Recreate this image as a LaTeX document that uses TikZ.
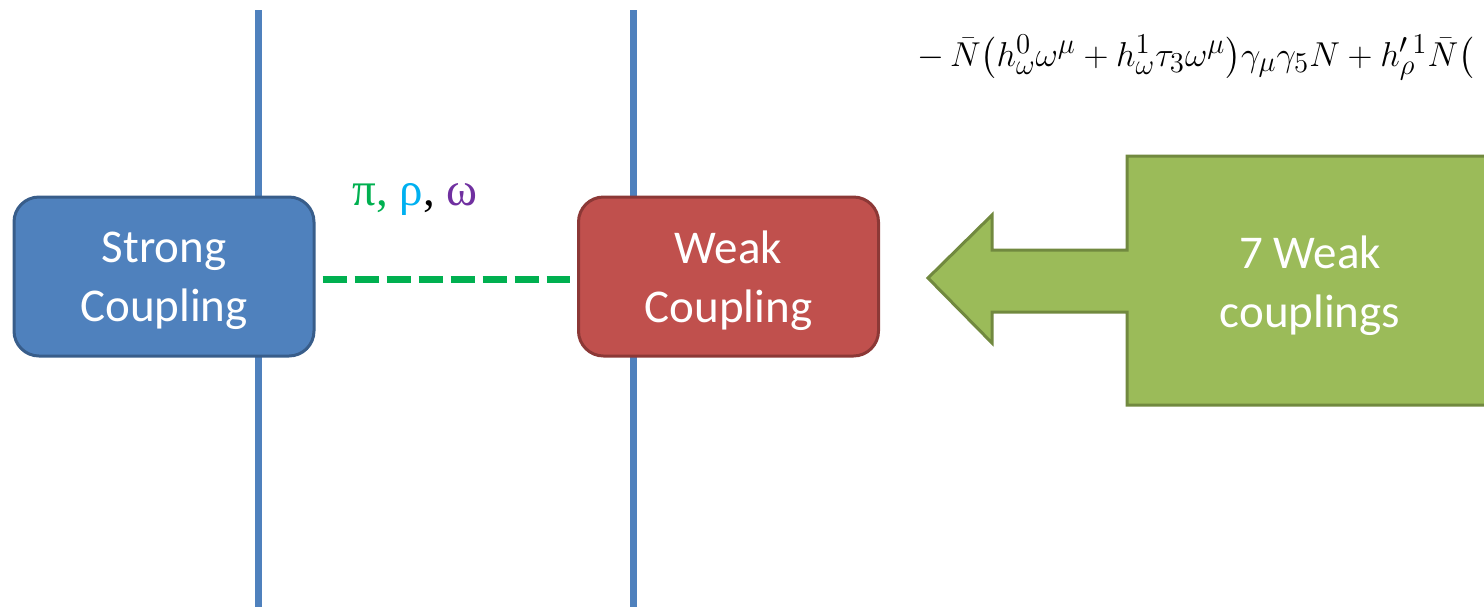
\documentclass[tikz,border=0pt]{standalone}
\usepackage{fontspec}
\setmainfont{Carlito}
\newfontfamily\greekfont{Liberation Serif}
\usepackage{amsmath}
\definecolor{lineblue}{HTML}{4F81BD}
\definecolor{strongfill}{HTML}{4F81BD}
\definecolor{strongdraw}{HTML}{385D8A}
\definecolor{weakfill}{HTML}{C0504D}
\definecolor{weakdraw}{HTML}{8C3836}
\definecolor{arrowfill}{HTML}{9BBB59}
\definecolor{arrowdraw}{HTML}{71893F}
\definecolor{mesongreen}{HTML}{00B050}
\definecolor{mesoncyan}{HTML}{00B0F0}
\definecolor{mesonpurple}{HTML}{7030A0}
\tikzset{
  coupbox/.style={rounded corners=12.5pt, line width=1.5pt, minimum width=150pt, minimum height=79.5pt, inner sep=0pt},
  boxtext/.style={align=center, text=white, font=\fontsize{23.5}{29.5}\selectfont, inner sep=0pt},
  vline/.style={lineblue, line width=3.5pt},
  mesonline/.style={mesongreen, line width=3.75pt, dash pattern=on 12pt off 4pt},
}
\begin{document}
\begin{tikzpicture}[x=0.5pt,y=-0.5pt]
\useasboundingbox (0,0) rectangle (1484,607);
\clip (0,0) rectangle (1484,607);
% vertical lines
\coordinate (l1t) at (258,10);
\coordinate (l1b) at (258,607);
\coordinate (l2t) at (633,10);
\coordinate (l2b) at (633,607);
\draw[vline] (l1t) -- (l1b);
\draw[vline] (l2t) -- (l2b);
% boxes
\node[coupbox, fill=strongfill, draw=strongdraw] (strong) at (164,276.5) {};
\node[boxtext] (strongtext) at (164,281) {Strong\\Coupling};
\node[coupbox, fill=weakfill, draw=weakdraw] (weak) at (728.5,276.5) {};
\node[boxtext] (weaktext) at (728.5,281) {Weak\\Coupling};
% meson exchange
\draw[mesonline, shorten <=3.5pt, shorten >=3.5pt] ([yshift=-1.5pt]strong.east) -- ([yshift=-1.5pt]weak.west);
\node[font=\greekfont\fontsize{23.5}{27}\selectfont, inner sep=0pt] (mesons) at (415,199)
  {\textcolor{mesongreen}{π,} \textcolor{mesoncyan}{ρ}, \textcolor{mesonpurple}{ω}};
% block arrow
\draw[fill=arrowfill, draw=arrowdraw, line width=1.5pt, line join=miter]
  (928,278) -- (992,215) -- (992,250) -- (1127,250) -- (1127,156) -- (1520,156)
  -- (1520,405) -- (1127,405) -- (1127,312) -- (992,312) -- (992,343) -- cycle;
\node[boxtext] (weak7) at (1310,286) {7 Weak\\couplings};
% equation
\node[anchor=base west, inner sep=0pt, font=\fontsize{19}{22}\selectfont] (eq) at (917,66)
  {$-\,\bar{N}\bigl(h^0_\omega\omega^\mu + h^1_\omega\tau_3\omega^\mu\bigr)\gamma_\mu\gamma_5 N + h'^{\,1}_\rho\bar{N}\bigl($};
\end{tikzpicture}
\end{document}
